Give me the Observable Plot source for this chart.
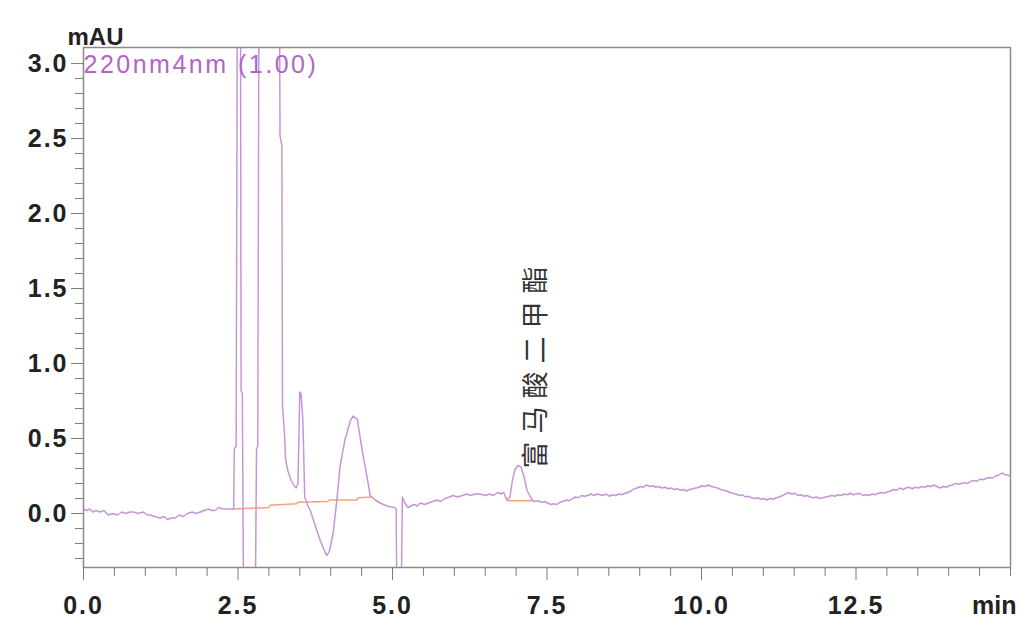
<!DOCTYPE html>
<html><head><meta charset="utf-8">
<script src="https://cdn.jsdelivr.net/npm/d3@7"></script>
<script src="https://cdn.jsdelivr.net/npm/@observablehq/plot@0.6"></script>
<style>
body{margin:0;background:#fff}
</style>
</head><body><div id="chart"></div>
<script>
// Chromatogram trace (min, mAU); off-scale excursions given as values beyond the axis
const traceTime = [0.00,0.05,0.10,0.15,0.20,0.27,0.33,0.40,0.47,0.55,0.62,0.68,0.75,0.81,0.88,0.97,1.03,1.08,1.15,1.24,1.30,1.36,1.42,1.49,1.55,1.62,1.68,1.76,1.83,1.89,1.95,2.02,2.08,2.13,2.19,2.25,2.31,2.38,2.43,
2.44,2.47,2.49,2.54,2.55,2.57,2.59,2.78,2.80,2.82,2.84,3.17,3.18,3.21,3.22,3.25,3.27,3.31,3.36,3.40,3.44,3.47,3.50,3.52,3.55,3.58,3.63,3.67,3.75,3.83,3.91,3.94,3.98,4.04,4.10,4.15,4.23,4.32,4.36,4.43,4.51,4.59,4.64,4.72,4.80,4.91,5.03,5.06,5.07,5.14,5.16,5.20,5.25,
5.30,5.35,5.40,5.45,5.52,5.58,5.65,5.72,5.78,5.85,5.92,5.98,6.05,6.13,6.20,6.26,6.33,6.42,6.50,6.57,6.63,6.70,6.76,6.80,6.85,6.90,6.94,6.98,7.03,7.08,7.13,7.18,
7.26,7.31,7.36,7.41,7.46,7.51,7.56,7.61,7.66,7.71,7.76,7.81,7.86,7.91,7.96,8.01,8.06,8.11,8.16,8.21,8.26,8.31,8.36,8.41,8.46,8.51,8.56,8.61,8.66,8.71,8.76,8.81,8.86,8.91,8.96,
9.01,9.06,9.11,9.16,9.21,9.26,9.31,9.36,9.41,9.46,9.51,9.56,9.61,9.66,9.71,9.76,9.81,9.86,9.91,9.96,10.01,10.06,10.11,10.16,10.21,10.26,10.31,10.36,10.41,10.46,10.51,10.56,10.61,10.66,10.71,10.76,10.81,10.86,10.91,10.96,
11.01,11.06,11.11,11.16,11.21,11.26,11.31,11.36,11.41,11.46,11.51,11.56,11.61,11.66,11.71,11.76,11.81,11.86,11.91,11.96,12.01,12.06,12.11,12.16,12.21,12.26,12.31,12.36,12.41,12.46,12.51,12.56,12.61,12.66,12.71,12.76,12.81,12.86,12.91,12.96,
13.01,13.06,13.11,13.16,13.21,13.26,13.31,13.36,13.41,13.46,13.51,13.56,13.61,13.66,13.71,13.76,13.81,13.86,13.91,13.96,14.01,14.06,14.11,14.16,14.21,14.26,14.31,14.36,14.41,14.46,14.51,14.56,14.61,14.66,14.71,14.76,14.81,14.86,14.91,14.96,15.00];
const traceMAU = [0.03,0.02,0.03,0.01,0.02,0.01,0.02,-0.01,0.00,-0.01,0.01,0.00,0.01,0.01,0.00,0.01,-0.01,-0.01,-0.02,-0.03,-0.02,-0.04,-0.03,-0.03,-0.01,-0.02,0.00,0.01,0.00,0.01,0.02,0.03,0.02,0.02,0.04,0.03,0.03,0.03,0.03,
0.43,0.45,3.6,3.6,0.82,0.80,-0.6,-0.6,0.43,0.45,3.6,3.6,2.52,2.45,0.72,0.55,0.36,0.28,0.22,0.19,0.17,0.20,0.81,0.80,0.62,0.11,0.05,0.02,-0.08,-0.18,-0.26,-0.28,-0.25,-0.13,0.09,0.31,0.49,0.62,0.65,0.63,0.42,0.24,0.12,0.09,0.07,0.05,0.04,0.03,-0.6,-0.6,0.11,0.07,0.04,
0.05,0.06,0.05,0.07,0.06,0.07,0.08,0.09,0.08,0.10,0.11,0.12,0.11,0.12,0.13,0.12,0.13,0.13,0.12,0.13,0.12,0.14,0.13,0.14,0.09,0.11,0.22,0.29,0.32,0.31,0.24,0.15,
0.09,0.08,0.085,0.075,0.08,0.07,0.06,0.065,0.06,0.075,0.08,0.09,0.085,0.10,0.11,0.105,0.12,0.115,0.12,0.13,0.12,0.13,0.125,0.12,0.13,0.115,0.125,0.12,0.13,0.125,0.135,0.14,0.15,0.165,0.17,
0.18,0.175,0.19,0.18,0.185,0.175,0.18,0.17,0.175,0.165,0.17,0.16,0.165,0.155,0.16,0.15,0.16,0.165,0.17,0.175,0.185,0.18,0.19,0.18,0.175,0.17,0.16,0.155,0.15,0.14,0.135,0.13,0.12,0.125,0.11,0.115,0.105,0.10,0.105,0.095,
0.10,0.09,0.10,0.095,0.105,0.11,0.12,0.13,0.14,0.13,0.135,0.12,0.125,0.115,0.12,0.11,0.105,0.11,0.10,0.105,0.11,0.115,0.12,0.115,0.125,0.12,0.13,0.125,0.135,0.125,0.13,0.135,0.12,0.125,0.12,0.13,0.125,0.135,0.14,0.135,
0.145,0.15,0.16,0.155,0.17,0.16,0.17,0.175,0.165,0.175,0.17,0.18,0.175,0.185,0.18,0.19,0.18,0.17,0.18,0.175,0.185,0.19,0.20,0.195,0.20,0.205,0.20,0.215,0.22,0.215,0.23,0.225,0.235,0.24,0.235,0.25,0.255,0.27,0.26,0.255,0.25];

// Integration baselines (orange)
const baseTime = [2.43,3.00,3.02,3.45,3.47,3.95,3.98,4.42,4.45,4.67, 6.86,7.27];
const baseMAU  = [0.03,0.04,0.055,0.065,0.075,0.08,0.09,0.09,0.105,0.11, 0.085,0.085];
const baseSeg  = [1,1,1,1,1,1,1,1,1,1, 2,2];

const xMajor = [0, 2.5, 5, 7.5, 10, 12.5];
const xMinor = [0.5,1,1.5,2,3,3.5,4,4.5,5.5,6,6.5,7,8,8.5,9,9.5,10.5,11,11.5,12,13,13.5,14,14.5,15];
const yMajor = [0, 0.5, 1, 1.5, 2, 2.5, 3];
const yMinor = [-0.3,-0.2,-0.1,0.1,0.2,0.3,0.4,0.6,0.7,0.8,0.9,1.1,1.2,1.3,1.4,1.6,1.7,1.8,1.9,2.1,2.2,2.3,2.4,2.6,2.7,2.8,2.9];

const peakName = ["富马酸二甲酯"];
const peakTime = [7.32];
const peakLabelY = [0.30];

const trace = traceTime.map((t, i) => ({t, v: traceMAU[i]}));
const base = baseTime.map((t, i) => ({t, v: baseMAU[i], s: baseSeg[i]}));
const peaks = peakName.map((n, i) => ({n, t: peakTime[i], y: peakLabelY[i]}));

const font = "Liberation Sans, Arial, Helvetica, sans-serif";
const legendText = "220nm4nm (1.00)";

const chart = Plot.plot({
  width: 1019, height: 619,
  marginLeft: 83, marginRight: 9, marginTop: 47, marginBottom: 52,
  x: {domain: [0, 15]},
  y: {domain: [-0.36, 3.107]},
  style: {background: "#fff", fontFamily: font, overflow: "visible"},
  marks: [
    Plot.axisY(yMinor, {tickSize: 8, tickFormat: () => "", stroke: "#7a7a7a", label: null}),
    Plot.axisY(yMajor, {tickSize: 12, tickPadding: 3, tickFormat: d => d.toFixed(1), fontSize: 25, fontWeight: "bold", fill: "#222", stroke: "#7a7a7a", label: null}),
    Plot.axisX(xMinor, {tickSize: 9, tickFormat: () => "", stroke: "#7a7a7a", label: null}),
    Plot.axisX(xMajor, {tickSize: 13, tickPadding: 16, tickFormat: d => d.toFixed(1), fontSize: 25, fontWeight: "bold", fill: "#222", stroke: "#7a7a7a", label: null}),
    Plot.line(base, {x: "t", y: "v", z: "s", stroke: "#f5a27c", strokeWidth: 1.5, clip: true}),
    Plot.line(trace, {x: "t", y: "v", stroke: "#c596d6", strokeWidth: 1.5, clip: true}),
    Plot.frame({stroke: "#8a8a8a", strokeWidth: 1.5}),
    Plot.text([legendText], {frameAnchor: "top-left", text: d => d, textAnchor: "start", lineAnchor: "top", dx: 0, dy: 8, fontSize: 25, fill: "#b066c6"}),
    Plot.text(["mAU"], {frameAnchor: "top-left", text: d => d, textAnchor: "start", lineAnchor: "top", dx: -16, dy: -20, fontSize: 24, fontWeight: "bold", fill: "#222"}),
    Plot.text(["min"], {frameAnchor: "bottom-right", text: d => d, textAnchor: "end", lineAnchor: "top", dx: 6, dy: 29, fontSize: 25, fontWeight: "bold", fill: "#222"}),
    Plot.text(peaks, {x: "t", y: "y", text: "n", rotate: -90, textAnchor: "start", lineAnchor: "middle", fontSize: 27, fontFamily: "Noto Sans CJK SC", fill: "#333"})
  ]
});
document.getElementById("chart").appendChild(chart);

// letter spacing tweaks (style only)
d3.select(chart).selectAll("text").each(function() {
  const s = this.textContent;
  if (/^\d+\.\d$/.test(s)) d3.select(this).attr("letter-spacing", "2px");
  else if (s === legendText) d3.select(this).attr("letter-spacing", "2.5px");
  else if (peakName.includes(s)) d3.select(this).attr("letter-spacing", "8px");
});
</script></body></html>
